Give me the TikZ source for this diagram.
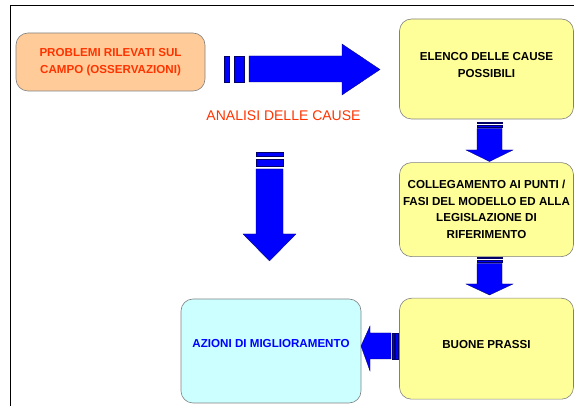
\documentclass[tikz,border=0pt]{standalone}
\usepackage{fontspec}
\setmainfont{Liberation Sans}
\usetikzlibrary{positioning}
\definecolor{BoxOrange}{HTML}{FFCC99}
\definecolor{BoxYellow}{HTML}{FFFF99}
\definecolor{BoxCyan}{HTML}{CCFFFF}
\definecolor{BoxEdge}{HTML}{808080}
\definecolor{TextRed}{HTML}{FF3300}
\definecolor{ArrowBlue}{HTML}{0000FF}
\definecolor{ArrowEdge}{HTML}{000066}
\begin{document}
\begin{tikzpicture}[x=1pt,y=-1pt,
    box/.style={draw=BoxEdge, line width=0.6pt, rounded corners=12pt, align=center, inner sep=0pt, font=\fontsize{11.6}{16.5}\selectfont\bfseries},
    blockarrow/.style={fill=ArrowBlue, draw=ArrowEdge, line width=0.3pt}]
        \useasboundingbox (0,0) rectangle (574,406);
        % cornice
        \draw[line width=1pt] (10,406) -- (10,6) -- (574,6);

        % caselle
        \node[box, fill=BoxOrange, text=TextRed, minimum width=189pt, minimum height=58pt] (problemi) at (110.5,62) {PROBLEMI RILEVATI SUL\\CAMPO (OSSERVAZIONI)};
        \node[box, fill=BoxYellow, minimum width=174pt, minimum height=100pt, text depth=8pt] (elenco) at (486.5,69) {ELENCO DELLE CAUSE\\POSSIBILI};
        \node[box, fill=BoxYellow, minimum width=174pt, minimum height=94pt, below=43pt of elenco] (collegamento) {COLLEGAMENTO AI PUNTI /\\FASI DEL MODELLO ED ALLA\\LEGISLAZIONE DI\\RIFERIMENTO};
        \node[box, fill=BoxYellow, minimum width=174pt, minimum height=101pt, text depth=9pt, below=41pt of collegamento] (prassi) {BUONE PRASSI};
        \node[box, fill=BoxCyan, text=ArrowBlue, minimum width=180pt, minimum height=104pt, text depth=16pt] (azioni) at (271,351) {AZIONI DI MIGLIORAMENTO};

        \node[text=TextRed, font=\fontsize{14}{16}\selectfont] (analisi) at (283.5,116) {ANALISI DELLE CAUSE};

        % freccia orizzontale
        \filldraw[blockarrow] (224,56) rectangle (229,82);
        \filldraw[blockarrow] (234,56) rectangle (244,82);
        \filldraw[blockarrow] (249,56) -- (342,56) -- (342,44) -- (380,69.5) -- (342,95) -- (342,82) -- (249,82) -- cycle;

        % freccia verticale grande
        \filldraw[blockarrow] (256,152) rectangle (283,156);
        \filldraw[blockarrow] (256,159) rectangle (283,166);
        \filldraw[blockarrow] (256,169) -- (256,234) -- (243,234) -- (269.5,261) -- (296,234) -- (283,234) -- (283,169) -- cycle;

        % frecce tra le caselle
        \filldraw[blockarrow] (477,122) rectangle (502,123.5);
        \filldraw[blockarrow] (477,125) rectangle (502,127);
        \filldraw[blockarrow] (477,128.5) -- (477,150) -- (466,150) -- (489.5,161.5) -- (513,150) -- (502,150) -- (502,128.5) -- cycle;

        \filldraw[blockarrow] (477,257) rectangle (502,258.5);
        \filldraw[blockarrow] (477,260) rectangle (502,262);
        \filldraw[blockarrow] (477,263.5) -- (477,284) -- (466,284) -- (489.5,295) -- (513,284) -- (502,284) -- (502,263.5) -- cycle;

        \filldraw[blockarrow] (395.5,333) rectangle (398,359);
        \filldraw[blockarrow] (392.5,333) rectangle (394,359);
        \filldraw[blockarrow] (391,333) -- (370,333) -- (370,326) -- (361,346) -- (370,371) -- (370,359) -- (391,359) -- cycle;
\end{tikzpicture}
\end{document}
